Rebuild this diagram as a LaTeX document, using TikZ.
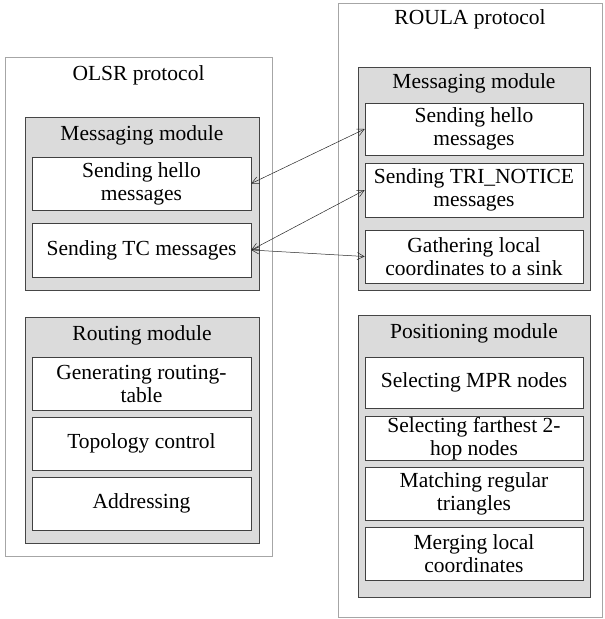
\documentclass[tikz,border=0pt]{standalone}
\usepackage{fontspec}
\setmainfont{Liberation Serif}
\usepackage{tikz}
\usetikzlibrary{arrows,arrows.meta,calc,positioning}

\begin{document}
\begin{tikzpicture}[x=1pt,y=-1pt,
  font=\fontsize{21.5}{23}\selectfont,
  protbox/.style={draw=gray!70,line width=0.6pt,inner sep=0pt},
  modbox/.style={draw=gray!55!black,fill=gray!28,line width=0.8pt,inner sep=0pt},
  taskbox/.style={draw=black!75,fill=white,line width=0.6pt,inner sep=0pt,align=center,minimum width=219pt},
  link/.style={black!85,line width=0.5pt,{Straight Barb[length=7pt,width=7pt]}-{Straight Barb[length=7pt,width=7pt]}}]
\useasboundingbox (0,0) rectangle (605,619);
% OLSR side
\node[protbox,minimum width=267pt,minimum height=499pt] (olsr) at (138.5,306.5) {};
\node (olsrtitle) at (138.5,75) {OLSR protocol};
\node[modbox,minimum width=234pt,minimum height=173pt] (lmsg) at (142,203.5) {};
\node (lmsgtitle) at (142,135) {Messaging module};
\node[taskbox,minimum height=53pt] (lhello) at (141.5,183.5) {Sending hello\\messages};
\node[taskbox,minimum height=54pt] (ltc) at (141.5,250) {Sending TC messages};
\node[modbox,minimum width=234pt,minimum height=226pt] (lrout) at (142,430) {};
\node (lrouttitle) at (142,335) {Routing module};
\node[taskbox,minimum height=53pt] (ltable) at (141.5,383.5) {Generating routing-\\table};
\node[taskbox,minimum height=53pt] (ltopo) at (141.5,443.5) {Topology control};
\node[taskbox,minimum height=53pt] (laddr) at (141.5,503.5) {Addressing};
% ROULA side
\node[protbox,minimum width=264pt,minimum height=614pt] (roula) at (470,310) {};
\node (roulatitle) at (470,19) {ROULA protocol};
\node[modbox,minimum width=232pt,minimum height=223pt] (rmsg) at (474,178.5) {};
\node (rmsgtitle) at (474,83) {Messaging module};
\node[taskbox,minimum width=218pt,minimum height=52pt] (rhello) at (474,129) {Sending hello\\messages};
\node[taskbox,minimum width=218pt,minimum height=54pt] (rtri) at (474,190) {Sending TRI\_NOTICE\\messages};
\node[taskbox,minimum width=218pt,minimum height=53pt] (rsink) at (474,256.5) {Gathering local\\coordinates to a sink};
\node[modbox,minimum width=232pt,minimum height=282pt] (rpos) at (474,456) {};
\node (rpostitle) at (474,333) {Positioning module};
\node[taskbox,minimum width=218pt,minimum height=51pt] (rmpr) at (474,382.5) {Selecting MPR nodes};
\node[taskbox,minimum width=218pt,minimum height=44pt] (rfar) at (474,438.5) {Selecting farthest 2-\\hop nodes};
\node[taskbox,minimum width=218pt,minimum height=53pt] (rtri2) at (474,493.5) {Matching regular\\triangles};
\node[taskbox,minimum width=218pt,minimum height=53pt] (rmerge) at (474,553.5) {Merging local\\coordinates};
% links
\draw[link] (lhello.east) -- (rhello.west);
\draw[link] (ltc.east) -- (rtri.west);
\draw[link] (ltc.east) -- (rsink.west);
\end{tikzpicture}
\end{document}
